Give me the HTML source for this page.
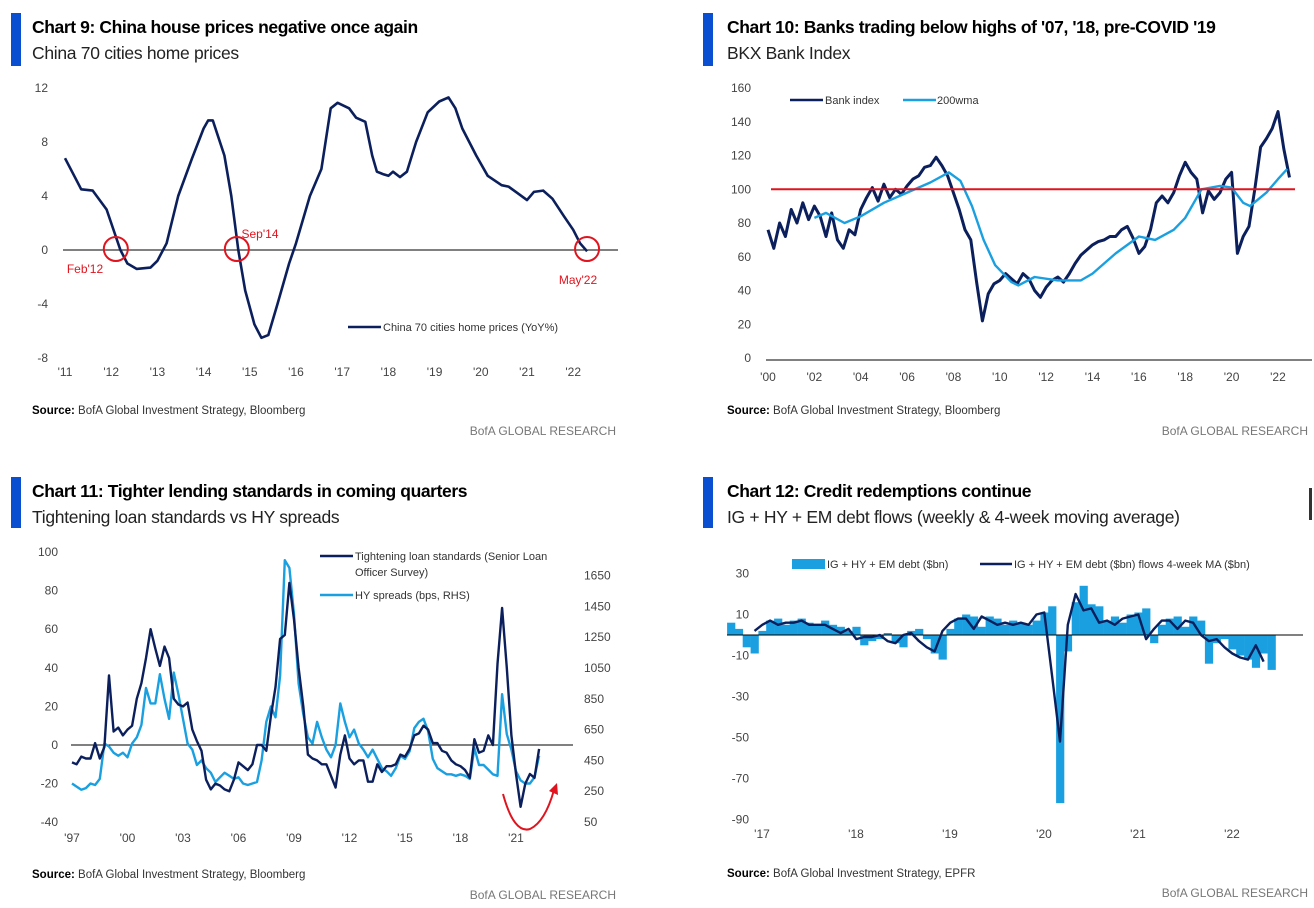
<!DOCTYPE html>
<html><head><meta charset="utf-8">
<style>
html,body{margin:0;padding:0;background:#fff;}
svg{display:block;font-family:"Liberation Sans",sans-serif;}
.t{font-weight:bold;font-size:17.5px;fill:#000;letter-spacing:-0.4px}
.st{font-size:17.5px;fill:#222;letter-spacing:-0.3px}
.tk{font-size:12px;fill:#444}
.src{font-size:11.5px;fill:#333}
.bofa{font-size:12px;fill:#777}
.lg{font-size:11px;fill:#333}
</style></head>
<body>
<svg id="s" width="1314" height="908" viewBox="0 0 1314 908" xmlns="http://www.w3.org/2000/svg">
<rect x="0" y="0" width="1314" height="908" fill="#fff"/>
<rect x="11" y="13" width="10" height="53" fill="#0a4fd1"/>
<text x="32" y="33" class="t">Chart 9: China house prices negative once again</text>
<text x="32" y="59" class="st">China 70 cities home prices</text>
<text x="32" y="414" class="src"><tspan font-weight="bold" fill="#000">Source:</tspan> BofA Global Investment Strategy, Bloomberg</text>
<text x="616" y="435" class="bofa" text-anchor="end">BofA GLOBAL RESEARCH</text>
<rect x="703" y="13" width="10" height="53" fill="#0a4fd1"/>
<text x="727" y="33" class="t">Chart 10: Banks trading below highs of '07, '18, pre-COVID '19</text>
<text x="727" y="59" class="st">BKX Bank Index</text>
<text x="727" y="414" class="src"><tspan font-weight="bold" fill="#000">Source:</tspan> BofA Global Investment Strategy, Bloomberg</text>
<text x="1308" y="435" class="bofa" text-anchor="end">BofA GLOBAL RESEARCH</text>
<rect x="11" y="477" width="10" height="51" fill="#0a4fd1"/>
<text x="32" y="497" class="t">Chart 11: Tighter lending standards in coming quarters</text>
<text x="32" y="523" class="st">Tightening loan standards vs HY spreads</text>
<text x="32" y="878" class="src"><tspan font-weight="bold" fill="#000">Source:</tspan> BofA Global Investment Strategy, Bloomberg</text>
<text x="616" y="899" class="bofa" text-anchor="end">BofA GLOBAL RESEARCH</text>
<rect x="703" y="477" width="10" height="51" fill="#0a4fd1"/>
<text x="727" y="497" class="t">Chart 12: Credit redemptions continue</text>
<text x="727" y="523" class="st">IG + HY + EM debt flows (weekly &amp; 4-week moving average)</text>
<text x="727" y="877" class="src"><tspan font-weight="bold" fill="#000">Source:</tspan> BofA Global Investment Strategy, EPFR</text>
<text x="1308" y="897" class="bofa" text-anchor="end">BofA GLOBAL RESEARCH</text>
<rect x="1309" y="488" width="3" height="32" fill="#333"/>
<g id="g"></g>
</svg>
<script>
const c9Years = [2011,2011.2,2011.35,2011.6,2011.9,2012.1,2012.2,2012.35,2012.55,2012.85,2013.0,2013.2,2013.45,2013.75,2014.0,2014.1,2014.2,2014.45,2014.6,2014.75,2014.9,2015.1,2015.25,2015.4,2015.6,2015.85,2016.0,2016.3,2016.55,2016.75,2016.9,2017.15,2017.3,2017.5,2017.65,2017.75,2017.9,2018.0,2018.1,2018.25,2018.4,2018.6,2018.85,2019.1,2019.3,2019.45,2019.6,2019.9,2020.15,2020.45,2020.6,2020.8,2021.0,2021.15,2021.35,2021.55,2021.8,2022.0,2022.15,2022.3];
const c9Values = [6.8,5.5,4.5,4.4,3.0,1.0,0.0,-1.0,-1.4,-1.3,-0.8,0.5,4.0,6.8,9.0,9.6,9.6,7.0,4.0,0.0,-3.0,-5.5,-6.5,-6.3,-4.0,-1.0,0.5,4.0,6.0,10.5,10.9,10.5,9.8,9.5,7.0,5.8,5.6,5.5,5.8,5.4,5.8,8.0,10.2,11.0,11.3,10.5,9.0,7.0,5.5,4.8,4.7,4.2,3.7,4.3,4.4,3.8,2.5,1.5,0.5,-0.1];
const c9YTicks = [12,8,4,0,-4,-8];
const c9XTicks = ["'11","'12","'13","'14","'15","'16","'17","'18","'19","'20","'21","'22"];
const c10Start = 2000, c10Step = 0.25;
const c10Bank = [76,65,80,72, 88,80,92,82, 90,84,72,86, 70,65,76,73, 88,95,101,93, 103,95,100,97, 102,106,108,113, 114,119,114,108, 98,88,76,70, 45,22,38,44, 46,50,47,44, 50,47,40,36, 42,46,48,45, 50,56,61,64, 67,69,70,72, 72,76,78,71, 62,66,76,92, 96,92,98,108, 116,110,106,86, 99,94,98,106, 110,62,72,78, 100,125,130,136, 146,124,107];
const c10MaYears = [2002,2002.5,2003.3,2004,2005,2006,2007,2007.8,2008.3,2008.8,2009.3,2009.8,2010.5,2010.8,2011.5,2012.5,2013.5,2014,2015,2016,2016.7,2017.5,2018,2018.7,2019.5,2020,2020.5,2020.8,2021.5,2022,2022.4];
const c10Ma = [83,86,80,84,92,98,104,110,105,90,70,55,45,43,48,46,46,50,62,72,70,76,83,100,102,101,92,90,98,106,112];
const c10YTicks = [160,140,120,100,80,60,40,20,0];
const c10XTicks = ["'00","'02","'04","'06","'08","'10","'12","'14","'16","'18","'20","'22"];
const c11Start = 1997, c11Step = 0.25;
const c11Loan = [-9,-10,-6,-7, -7,1,-7,-1, 36,7,9,5, 8,10,24,32, 45,60,50,41, 51,45,24,21, 20,22,8,2, -3,-18,-23,-20, -21,-23,-24,-18, -9,-11,-13,-10, 0,0,-3,15, 30,55,57,84, 65,40,20,-5, -7,-8,-10,-10, -16,-22,-5,5, -7,-10,-8,-8, -19,-19,-10,-14, -11,-11,-10,-5, -6,-2,5,6, 10,8,1,1, -3,-4,-8,-10, -11,-13,-17,3, -4,-3,5,0, 42,71,40,5, -15,-32,-20,-15, -17,-2];
const c11Hy = [300,280,260,270, 300,290,330,560, 540,500,480,500, 470,560,600,680, 920,820,820,1010, 850,720,1020,880, 720,560,520,420, 450,400,370,310, 340,370,350,330, 340,300,290,300, 310,450,700,800, 730,1000,1750,1700, 1400,950,750,600, 560,700,600,520, 470,550,820,700, 600,650,560,520, 470,520,460,400, 380,350,400,480, 460,510,660,700, 720,640,460,400, 380,360,360,350, 360,350,330,530, 420,420,390,360, 350,880,620,520, 380,320,300,300, 340,480];
const c11LTicks = [100,80,60,40,20,0,-20,-40];
const c11RTicks = [1650,1450,1250,1050,850,650,450,250,50];
const c11XTicks = ["'97","'00","'03","'06","'09","'12","'15","'18","'21"];
const c12Start = 2016.67, c12Step = 1/12;
const c12Flows = [6,3,-6,-9, 2,7,8,5,7,8,6,5,7,5,4,2, 4,-5,-3,-2,1,-4,-6,2,3,-2,-9,-12, 3,8,10,9,4,9,8,5,7,6,5,7, 11,14,-82,-8,16,24,15,14,7,9,6,10, 11,13,-4,5,8,9,4,9,7,-14,-4,-2, -7,-10,-12,-16,-9,-17];
const c12MaStart = 2016.92;
const c12Ma = [2,5,7,5,6,6,7,5,5,5,3,1, 3,-2,-1,-1,0,-3,-4,0,1,-3,-6,-8, 2,6,8,8,3,9,7,5,6,5,6,5, 10,11,-20,-52,5,20,12,13,6,7,5,8, 9,10,-2,3,7,7,3,7,6,0,-3,-2, -6,-9,-11,-12,-5,-13];
const c12YTicks = [30,10,-10,-30,-50,-70,-90];
const c12XTicks = ["'17","'18","'19","'20","'21","'22"];

const NS = "http://www.w3.org/2000/svg";
const G = document.getElementById('g');
function mk(tag, attrs, parent){
  const e = document.createElementNS(NS, tag);
  for (const k in attrs) e.setAttribute(k, attrs[k]);
  (parent||G).appendChild(e);
  return e;
}
function pathD(xs, ys){ return xs.map((x,i)=>(i?'L':'M')+x.toFixed(1)+','+ys[i].toFixed(1)).join(''); }

const X9 = t => 65 + (t-2011)*46.2;
const Y9 = v => 250 - v*13.5;
c9YTicks.forEach(v=>{
  const e = mk('text',{x:48,y:Y9(v)+4,'text-anchor':'end',class:'tk'});
  
  
  e.textContent = v;
});
c9XTicks.forEach((s,i)=>{
  const e = mk('text',{x:X9(2011+i),y:376,'text-anchor':'middle',class:'tk'});
  
  
  e.textContent = s;
});
let e9 = mk('line',{x1:63,x2:618,y1:Y9(0),y2:Y9(0),stroke:'#000','stroke-width':1});


e9 = mk('path',{d:pathD(c9Years.map(X9),c9Values.map(Y9)),fill:'none',stroke:'#0b1f5c','stroke-width':2.6,'stroke-linejoin':'round'});


[[2012.1,"Feb'12",85,273],[2014.72,"Sep'14",260,238],[2022.3,"May'22",578,284]].forEach(a=>{
  const c = mk('circle',{cx:X9(a[0]),cy:Y9(0)-1,r:12,fill:'none',stroke:'#e0141e','stroke-width':2});
  
  
  const t = mk('text',{x:a[2],y:a[3],'text-anchor':'middle','font-size':12,fill:'#e0141e'});
  
  
  t.textContent = a[1];
});
e9 = mk('line',{x1:348,x2:381,y1:327,y2:327,stroke:'#0b1f5c','stroke-width':2.6});


e9 = mk('text',{x:383,y:331,class:'lg'});


e9.textContent = 'China 70 cities home prices (YoY%)';

const X10 = t => 768 + (t-2000)*23.18;
const Y10 = v => 358 - v*1.6875;
c10YTicks.forEach(v=>{
  const e = mk('text',{x:751,y:Y10(v)+4,'text-anchor':'end',class:'tk'});
  
  
  e.textContent = v;
});
c10XTicks.forEach((s,i)=>{
  const e = mk('text',{x:X10(2000+2*i),y:381,'text-anchor':'middle',class:'tk'});
  
  
  e.textContent = s;
});
let e10 = mk('line',{x1:766,x2:1312,y1:Y10(0)+2,y2:Y10(0)+2,stroke:'#000','stroke-width':1});


e10 = mk('path',{d:pathD(c10Bank.map((v,i)=>X10(c10Start+i*c10Step)),c10Bank.map(Y10)),fill:'none',stroke:'#0b1f5c','stroke-width':3,'stroke-linejoin':'round'});


e10 = mk('path',{d:pathD(c10MaYears.map(X10),c10Ma.map(Y10)),fill:'none',stroke:'#1aa0e0','stroke-width':2.4,'stroke-linejoin':'round'});


e10 = mk('line',{x1:771,x2:1295,y1:Y10(100),y2:Y10(100),stroke:'#e0141e','stroke-width':2});


e10 = mk('line',{x1:790,x2:823,y1:100,y2:100,stroke:'#0b1f5c','stroke-width':2.6});


e10 = mk('text',{x:825,y:104,class:'lg'});


e10.textContent='Bank index';
e10 = mk('line',{x1:903,x2:936,y1:100,y2:100,stroke:'#1aa0e0','stroke-width':2.6});


e10 = mk('text',{x:937,y:104,class:'lg'});


e10.textContent='200wma';

const X11 = t => 72 + (t-1997)*18.5;
const Y11L = v => 745 - v*1.93;
const Y11R = v => 822 - (v-50)*0.154;
c11LTicks.forEach(v=>{
  const e = mk('text',{x:58,y:Y11L(v)+4,'text-anchor':'end',class:'tk'});
  
  
  e.textContent = v;
});
c11RTicks.forEach(v=>{
  const e = mk('text',{x:584,y:Y11R(v)+4,class:'tk'});
  
  
  e.textContent = v;
});
c11XTicks.forEach((s,i)=>{
  const e = mk('text',{x:X11(1997+3*i),y:842,'text-anchor':'middle',class:'tk'});
  
  
  e.textContent = s;
});
let e11 = mk('line',{x1:71,x2:573,y1:Y11L(0),y2:Y11L(0),stroke:'#000','stroke-width':1});


e11 = mk('path',{d:pathD(c11Hy.map((v,i)=>X11(c11Start+i*c11Step)),c11Hy.map(Y11R)),fill:'none',stroke:'#1aa0e0','stroke-width':2.4,'stroke-linejoin':'round'});


e11 = mk('path',{d:pathD(c11Loan.map((v,i)=>X11(c11Start+i*c11Step)),c11Loan.map(Y11L)),fill:'none',stroke:'#0b1f5c','stroke-width':2.4,'stroke-linejoin':'round'});


e11 = mk('path',{d:'M503,794 Q514,834 530,829 Q545,822 554,790',fill:'none',stroke:'#e0141e','stroke-width':2});


e11 = mk('path',{d:'M549,791 L557,783 L558,795 Z',fill:'#e0141e'});


e11 = mk('line',{x1:320,x2:353,y1:556,y2:556,stroke:'#0b1f5c','stroke-width':2.6});


e11 = mk('text',{x:355,y:560,class:'lg'});


e11.textContent='Tightening loan standards (Senior Loan';
e11 = mk('text',{x:355,y:576,class:'lg'});


e11.textContent='Officer Survey)';
e11 = mk('line',{x1:320,x2:353,y1:595,y2:595,stroke:'#1aa0e0','stroke-width':2.6});


e11 = mk('text',{x:355,y:599,class:'lg'});


e11.textContent='HY spreads (bps, RHS)';

const X12 = t => 762 + (t-2017)*94;
const Y12 = v => 635 - v*2.05;
c12YTicks.forEach(v=>{
  const e = mk('text',{x:749,y:Y12(v)+4,'text-anchor':'end',class:'tk'});
  
  
  e.textContent = v;
});
c12XTicks.forEach((s,i)=>{
  const e = mk('text',{x:X12(2017+i),y:838,'text-anchor':'middle',class:'tk'});
  
  
  e.textContent = s;
});
const bw = 94*c12Step;
c12Flows.forEach((v,i)=>{
  const x = X12(c12Start+i*c12Step);
  const y0 = Y12(0), y1 = Y12(v);
  const b = mk('rect',{x:(x-bw/2).toFixed(1),y:Math.min(y0,y1).toFixed(1),width:(bw+0.4).toFixed(1),height:Math.abs(y1-y0).toFixed(1),fill:'#1aa0e0'});
  
  
});
let e12 = mk('line',{x1:727,x2:1303,y1:Y12(0),y2:Y12(0),stroke:'#000','stroke-width':1});


e12 = mk('path',{d:pathD(c12Ma.map((v,i)=>X12(c12MaStart+i*c12Step)),c12Ma.map(Y12)),fill:'none',stroke:'#0b1f5c','stroke-width':2.4,'stroke-linejoin':'round'});


e12 = mk('rect',{x:792,y:559,width:33,height:10,fill:'#1aa0e0'});


e12 = mk('text',{x:827,y:568,class:'lg'});


e12.textContent='IG + HY + EM debt ($bn)';
e12 = mk('line',{x1:980,x2:1012,y1:564,y2:564,stroke:'#0b1f5c','stroke-width':2.6});


e12 = mk('text',{x:1014,y:568,class:'lg'});


e12.textContent='IG + HY + EM debt ($bn) flows 4-week MA ($bn)';
</script>
</body></html>
